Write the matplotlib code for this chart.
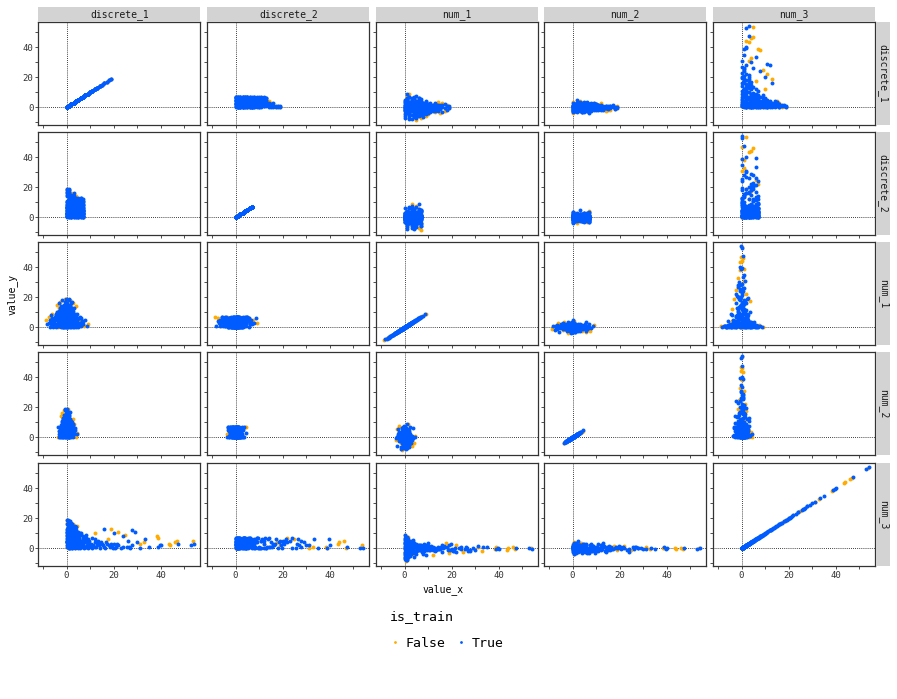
import matplotlib.pyplot as plt
from matplotlib.lines import Line2D

variables = ["discrete_1", "discrete_2", "num_1", "num_2", "num_3"]

# is_train == True rows (hand-estimated from the point clouds)
true_discrete_1 = [
    0, 1, 2, 3, 4, 5, 6, 7, 8, 9,
    2, 3, 1, 4, 5, 0, 6, 3, 10, 11,
    4, 2, 6, 1, 7, 5, 8, 12, 3, 0,
    5, 9, 2, 4, 13, 1, 7, 3, 6, 10,
    0, 8, 3, 11, 2, 5, 1, 6, 4, 14,
    7, 3, 9, 1, 4, 12, 2, 0, 8, 5,
    6, 10, 2, 4, 1, 3, 7, 5, 9, 11,
    0, 2, 4, 6, 8, 13, 1, 3, 5, 7,
    12, 1, 3, 5, 2, 9, 4, 0, 6, 10,
    3, 7, 1, 14, 4, 8, 2, 6, 11, 5,
    0, 1, 2, 3, 4, 5, 6, 7, 8, 9,
    10, 11, 12, 13, 14, 2, 3, 4, 1, 0,
    2, 5, 1, 3, 6, 0, 4, 8, 2, 7,
    15, 15, 16, 16, 17, 17, 18, 18, 19, 19,
    3, 2, 3, 2, 2, 1, 6, 4, 11, 12, 5, 8, 0, 10, 1, 13,
    1, 3, 5, 7, 9, 11, 0, 2, 4, 6,
    8, 10, 12, 0, 1, 2, 3, 4, 5, 6,
    7, 2, 9, 4, 13, 1, 3, 6, 8, 0,
    5, 3, 11, 2, 7, 1, 10, 4, 6, 14,
    0, 2, 1, 3, 5, 4, 8, 6, 9, 12,
    1, 0, 2, 3, 4, 5, 7, 9, 11, 13,
    4, 6, 8, 10, 2, 3, 5, 7, 1, 0,
    12, 14, 13, 15, 16, 2, 4, 0, 1, 3,
    5, 6, 7, 8, 9, 10, 11, 1, 2, 3,
]
true_discrete_2 = [
    3, 6, 0, 5, 2, 7, 1, 4, 6, 2,
    0, 4, 7, 1, 3, 5, 6, 2, 0, 5,
    6, 2, 3, 0, 5, 4, 7, 1, 7, 1,
    1, 3, 5, 7, 2, 4, 0, 6, 2, 7,
    7, 5, 1, 3, 6, 0, 2, 4, 3, 0,
    2, 7, 6, 5, 0, 4, 3, 2, 1, 6,
    7, 1, 4, 6, 3, 0, 5, 2, 4, 2,
    4, 1, 2, 3, 7, 6, 0, 5, 7, 3,
    3, 6, 4, 1, 7, 0, 5, 6, 0, 6,
    2, 6, 3, 1, 4, 2, 5, 1, 7, 3,
    5, 2, 7, 0, 1, 6, 5, 7, 3, 1,
    4, 0, 6, 5, 3, 4, 6, 0, 7, 2,
    1, 3, 6, 4, 0, 7, 2, 5, 3, 0,
    0, 2, 1, 3, 0, 1, 0, 1, 0, 1,
    0, 0, 1, 2, 6, 0, 6, 2, 4, 1, 3, 0, 2, 5, 0, 3,
    0, 2, 4, 6, 1, 3, 5, 7, 2, 4,
    6, 1, 3, 7, 4, 6, 2, 5, 0, 3,
    0, 5, 3, 7, 1, 2, 4, 6, 3, 0,
    5, 0, 6, 1, 2, 3, 0, 4, 7, 2,
    6, 4, 1, 7, 2, 5, 6, 0, 5, 2,
    6, 3, 0, 4, 7, 1, 4, 7, 1, 6,
    1, 2, 3, 4, 5, 6, 7, 0, 2, 4,
    7, 1, 4, 1, 0, 3, 3, 1, 5, 6,
    3, 5, 1, 0, 2, 6, 4, 7, 1, 5,
]
true_num_1 = [
    -0.4, 2.1, -3.2, 1.0, -1.7, 4.3, 0.6, -5.1, 2.8, -0.9,
    1.4, -2.5, 0.2, 3.6, -4.0, -1.2, 5.2, -0.1, -2.9, 1.8,
    0.8, -3.8, -1.5, 2.9, 0.0, -6.2, 1.3, -2.2, 4.8, -0.6,
    2.4, -4.6, 0.7, -2.0, 0.3, -0.8, 3.1, 5.7, -3.3, 0.9,
    3.9, -1.0, -5.4, -0.3, 1.7, 0.4, -2.7, 2.2, 6.4, -1.4,
    -3.6, 0.5, 2.6, -1.9, 1.2, -0.7, 7.0, 0.1, -4.3, -2.4,
    1.5, -1.6, -6.8, 0.3, 4.6, -2.1, -0.2, 3.4, -1.1, 2.5,
    -2.2, 0.9, 2.0, -4.8, 0.6, -2.6, -0.5, 1.9, -0.9, 4.1,
    1.1, 2.4, -0.3, -3.0, 3.3, 0.2, -1.3, 5.0, 0.8, -3.9,
    6.0, -2.9, -4.1, 0.7, 2.7, -0.4, -1.6, 3.7, -0.5, -7.2,
    0.4, -0.9, 1.0, -1.4, -0.2, 1.6, -0.8, 0.5, 2.3, -2.0,
    1.7, 0.0, -1.9, 2.1, -0.2, -2.5, 0.8, 0.3, -1.1, 1.3,
    -8.1, 7.8, 8.6, -7.6, 5.9, -5.8, 6.9, -6.4, 0.4, -0.6,
    -1.2, 1.6, -3.4, 0.4, -0.7, 2.2, -2.0, 0.9, -0.3, 1.1,
    -0.4, 0.2, 0.5, -0.6, 0.3, -0.2, 0.8, -1.0, 0.4, -0.8, 1.2, 0.6, -1.5, -1.2, 0.9, 1.9,
    -3.0, 3.0, -1.0, 1.2, 4.4, -2.3, 0.7, -5.7, 2.6, -0.1,
    -2.8, 0.6, 1.5, -4.4, 5.4, -0.7, 2.2, -3.5, 1.0, -6.0,
    2.0, 6.6, -1.8, 0.2, -1.1, -2.4, 4.0, -0.5, 3.0, 2.7,
    -4.9, -0.8, 1.0, 3.5, -3.2, 0.1, 2.4, -2.0, 4.9, -2.2,
    1.8, -1.4, -3.7, 0.6, 2.9, -5.3, -1.2, 0.9, 3.6, 0.4,
    0.5, -1.5, 1.1, -0.2, 0.8, -1.0, 5.5, -4.0, -3.3, 3.0,
    -6.6, 6.2, -2.5, -0.9, 0.0, 3.9, -0.4, -1.3, 6.3, -7.0,
    0.9, 1.3, -2.0, 0.3, 1.8, -3.6, 1.6, 3.3, -2.2, 0.1,
    4.5, -2.6, 1.9, -0.8, 0.7, -2.1, 2.8, -0.6, -4.5, 2.3,
]
true_num_2 = [
    0.3, -1.1, 1.6, -0.4, 2.2, 0.8, -2.0, 0.1, -0.7, 1.2,
    -1.5, 0.6, -0.2, 1.0, -0.9, 2.6, 0.4, -2.4, 0.9, -0.3,
    2.8, 0.2, -1.3, -0.6, 1.4, -0.1, -1.8, 0.5, 0.0, -2.7,
    -0.5, 1.1, 3.0, -1.2, -0.8, 0.7, 2.0, -0.3, 1.7, -1.0,
    0.9, 2.3, -0.6, -2.1, 0.1, -1.6, 1.3, -0.9, 0.4, 0.6,
    1.9, -1.4, -0.2, 0.5, -2.9, 1.5, 0.2, 1.0, -0.5, 2.4,
    -2.3, 0.8, -0.7, 1.8, -0.1, 3.3, -1.7, 0.3, 2.1, -1.3,
    -0.8, 1.4, -1.9, 0.0, 1.0, -0.4, 0.6, -1.0, 1.2, -0.2,
    0.4, -2.6, 0.7, 1.6, -1.2, -0.9, 0.0, 1.1, 2.7, -0.6,
    -0.9, 0.2, 2.0, -0.7, -1.5, 2.9, 0.5, -0.1, 1.3, -0.3,
    -1.3, 0.4, -0.6, 0.9, 1.2, -0.7, 0.1, -0.4, 0.3, 0.6,
    -0.4, 1.7, 0.9, -1.1, 0.2, 0.4, -0.6, 0.8, 0.5, -0.2,
    0.6, -0.4, 1.0, -1.5, 3.6, -3.2, 2.5, 1.8, 4.6, -3.8,
    0.5, -1.2, 0.9, -0.3, 1.4, 0.1, -0.8, 0.3, 0.2, -0.5,
    0.1, -0.3, 0.4, 0.0, -0.5, 0.6, 0.3, -0.2, 0.5, 0.2, -0.4, -0.6, 0.8, 1.1, -0.3, 0.2,
    1.1, -0.8, -2.2, 2.5, 0.0, 0.8, -1.6, 0.4, 1.5, -2.5,
    -1.1, 2.1, -0.9, 0.3, 1.9, -1.8, 2.4, -0.2, -2.8, 1.0,
    0.7, -0.5, 1.8, -3.0, 0.9, -1.0, 0.5, 3.1, -1.4, 1.7,
    2.0, -1.7, 0.1, 0.6, -0.6, 2.2, -1.9, -1.2, 0.8, 1.1,
    -2.0, 1.3, -0.3, -1.4, 1.6, 0.9, 2.5, -0.8, 0.2, -1.7,
    0.8, -0.5, 0.2, -0.9, 0.4, 1.4, -2.6, 2.6, -1.1, 0.3,
    -1.3, 0.6, -2.3, 1.9, -3.3, 1.7, 3.4, -0.6, -0.9, 1.2,
    1.2, -0.4, -1.5, 1.0, 0.6, 2.4, -0.7, -2.2, -0.4, 0.9,
    -1.0, 0.3, -1.5, 2.2, -2.0, 1.4, 0.5, -2.3, 0.7, 0.0,
]
true_num_3 = [
    2.1, 0.6, 4.3, 1.2, 7.5, 0.3, 3.4, 1.8, 0.9, 2.6,
    9.8, 3.0, 12.5, 0.4, 2.2, 5.6, 0.7, 6.4, 1.5, 0.2,
    4.8, 1.1, 2.7, 8.2, 5.1, 0.8, 0.5, 0.9, 2.0, 14.2,
    6.2, 0.4, 10.6, 3.6, 0.3, 18.5, 1.4, 0.6, 2.3, 3.1,
    3.7, 2.9, 0.5, 1.6, 11.4, 7.9, 4.5, 9.1, 0.2, 0.8,
    0.7, 5.3, 1.9, 21.0, 4.0, 2.4, 0.9, 16.3, 1.0, 3.3,
    1.3, 4.7, 0.4, 8.7, 2.6, 13.0, 6.9, 0.3, 2.8, 1.2,
    7.2, 15.4, 3.2, 0.6, 3.9, 1.8, 25.5, 2.4, 5.9, 0.5,
    0.6, 6.7, 20.1, 1.7, 3.6, 5.2, 11.9, 0.9, 4.4, 0.3,
    1.5, 2.1, 8.0, 2.2, 0.4, 0.7, 28.0, 3.8, 0.5, 0.6,
    23.0, 19.2, 6.1, 10.3, 14.7, 4.9, 7.4, 3.0, 6.8, 8.4,
    6.0, 3.5, 4.2, 3.0, 2.6, 22.0, 17.0, 12.8, 9.5, 31.0,
    0.5, 0.9, 0.3, 1.1, 0.8, 1.6, 0.4, 0.2, 2.1, 0.7,
    1.2, 3.6, 0.4, 2.5, 1.8, 0.6, 0.9, 1.4, 0.3, 0.7,
    54.0, 53.0, 47.5, 40.0, 39.5, 39.0, 33.5, 30.0, 29.0, 28.0, 26.0, 24.0, 27.0, 20.0, 35.0, 16.0,
    3.2, 1.0, 6.6, 0.9, 2.0, 0.4, 11.0, 4.1, 1.7, 5.4,
    1.9, 0.8, 2.9, 8.9, 3.4, 13.6, 5.5, 2.0, 9.6, 0.4,
    4.6, 0.9, 3.5, 6.3, 2.0, 16.0, 1.3, 7.8, 0.6, 19.8,
    2.4, 7.0, 0.9, 10.1, 1.6, 12.2, 1.0, 4.3, 1.1, 0.5,
    5.0, 8.5, 2.7, 14.0, 3.1, 0.7, 2.2, 12.0, 0.8, 1.4,
    26.5, 20.5, 18.0, 15.0, 9.0, 13.5, 0.3, 1.2, 2.3, 0.6,
    0.6, 0.5, 1.1, 5.6, 6.8, 2.6, 1.4, 10.7, 1.0, 0.9,
    0.3, 3.9, 1.1, 2.9, 0.5, 4.8, 16.8, 2.5, 7.7, 21.5,
    0.8, 4.2, 8.1, 2.6, 6.1, 3.9, 5.0, 24.0, 0.5, 18.8,
]

# is_train == False rows
false_discrete_1 = [5, 5, 4, 2, 3, 7, 8, 4, 3, 9, 11, 13, 6, 10,
                    19, 18, 17, 16, 5, 2, 7, 1, 3, 0, 9, 4, 12, 14, 0, 15]
false_discrete_2 = [2, 0, 5, 4, 3, 0, 1, 1, 0, 6, 7, 2, 4, 3,
                    0, 1, 0, 2, 7, 3, 6, 5, 7, 2, 1, 6, 5, 4, 7, 3]
false_num_1 = [0.1, -0.3, 0.6, 0.3, -0.8, 1.0, -0.5, -1.6, 0.9, -2.4, 2.0, -3.1, 3.4, -4.2,
               -0.5, 1.3, -2.6, 2.9, -8.6, 9.2, -7.3, 7.4, 0.8, -1.9, -6.0, 5.5, -1.3, 3.8, -3.5, -4.0]
false_num_2 = [0.3, -0.2, 0.1, -0.4, 0.5, -0.1, 0.4, -0.6, 0.9, -0.9, 1.3, -1.4, 1.7, 2.0,
               0.6, -1.0, 1.2, -1.8, -0.9, 1.4, 0.8, -2.2, 4.4, -3.6, 3.2, -3.0, 2.6, -2.4, 3.8, -1.6]
false_num_3 = [53.5, 47.0, 46.0, 44.0, 43.5, 39.0, 38.5, 33.0, 31.0, 25.0, 22.0, 19.0, 17.5, 12.0,
               0.4, 1.2, 0.2, 2.8, 0.6, 0.3, 0.9, 1.5, 0.5, 0.7, 0.4, 1.1, 1.9, 0.8, 3.4, 4.5]

true_data = dict(zip(variables, [true_discrete_1, true_discrete_2, true_num_1, true_num_2, true_num_3]))
false_data = dict(zip(variables, [false_discrete_1, false_discrete_2, false_num_1, false_num_2, false_num_3]))

col_false = "#ffab00"
col_true = "#005cff"
font = "DejaVu Sans Mono"

W, H = 897, 699
fig = plt.figure(figsize=(W / 100, H / 100), dpi=100)

lefts = [38.3, 207.3, 376.3, 544.3, 713.3]
tops = [22.3, 132.3, 242.3, 352.3, 463.3]
pw, ph = 162, 103


def frac(x, y, w, h):
    return [x / W, 1 - (y + h) / H, w / W, h / H]


for r, rv in enumerate(variables):
    for c, cv in enumerate(variables):
        ax = fig.add_axes(frac(lefts[c], tops[r], pw, ph))
        ax.axvline(0, color="black", lw=0.6, ls=(0, (1, 1.5)), zorder=1)
        ax.axhline(0, color="black", lw=0.6, ls=(0, (1, 1.5)), zorder=1)
        ax.scatter(false_data[rv], false_data[cv], s=8, color=col_false, linewidths=0, zorder=2)
        ax.scatter(true_data[rv], true_data[cv], s=8, color=col_true, linewidths=0, zorder=3)
        ax.set_xlim(-12, 56.8)
        ax.set_ylim(-12, 56.7)
        ax.set_xticks([0, 20, 40])
        ax.set_yticks([0, 20, 40])
        ax.set_xticks([-10, 10, 30, 50], minor=True)
        ax.set_yticks([-10, 10, 30, 50], minor=True)
        ax.tick_params(which="both", length=2, width=0.6, color="#333333",
                       labelsize=6.5, pad=1.5, labelcolor="#333333")
        if r != len(variables) - 1:
            ax.tick_params(axis="x", which="both", labelbottom=False)
        if c != 0:
            ax.tick_params(axis="y", which="both", labelleft=False)
        for lab in ax.get_xticklabels() + ax.get_yticklabels():
            lab.set_family(font)
        for s in ax.spines.values():
            s.set_color("#333333")
            s.set_linewidth(0.9)
        # column strips on top
        if r == 0:
            sax = fig.add_axes(frac(lefts[c], 7.3, pw, 14.5))
            sax.set_facecolor("#d3d3d3")
            sax.set_xticks([])
            sax.set_yticks([])
            for s in sax.spines.values():
                s.set_visible(False)
            sax.text(0.5, 0.5, cv, ha="center", va="center", fontsize=7,
                     color="#1a1a1a", family=font)
    # row strips on the right
    rax = fig.add_axes(frac(876.3, tops[r], 14, ph))
    rax.set_facecolor("#d3d3d3")
    rax.set_xticks([])
    rax.set_yticks([])
    for s in rax.spines.values():
        s.set_visible(False)
    rax.text(0.5, 0.5, rv, ha="center", va="center", fontsize=7, rotation=-90,
             color="#1a1a1a", family=font)

fig.text(443 / W, 1 - 590 / H, "value_x", ha="center", va="center", fontsize=7, family=font)
fig.text(12 / W, 1 - 294 / H, "value_y", ha="center", va="center", fontsize=7,
         rotation=90, family=font)

handles = [Line2D([], [], ls="", marker="o", ms=2, color=col_false, mec="none"),
           Line2D([], [], ls="", marker="o", ms=2, color=col_true, mec="none")]
leg = fig.legend(handles, ["False", "True"], title="is_train", loc="center",
                 bbox_to_anchor=(447 / W, 1 - 630 / H), ncol=2, frameon=False,
                 prop={"family": font, "size": 9.5}, handlelength=0.7,
                 handletextpad=0.5, columnspacing=0.8, labelspacing=1.0)
leg.get_title().set_family(font)
leg.get_title().set_fontsize(9.5)
leg._legend_box.align = "left"

fig.savefig("out.png", dpi=100)
